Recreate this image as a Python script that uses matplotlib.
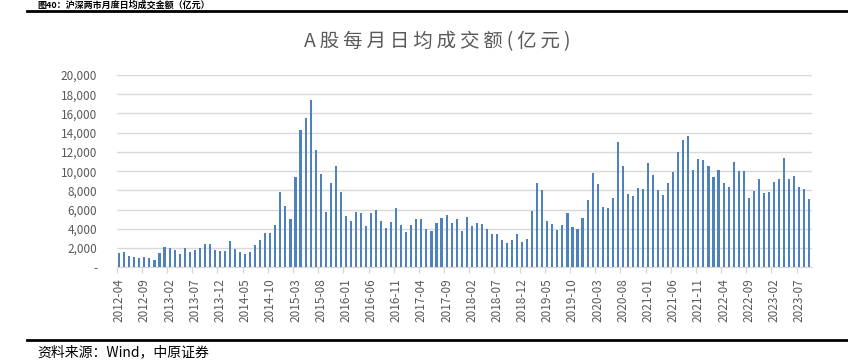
import pandas as pd
import matplotlib.pyplot as plt
from matplotlib.ticker import FixedLocator, FuncFormatter
from matplotlib.lines import Line2D

plt.rcParams['font.family'] = ['Noto Sans CJK SC', 'DejaVu Sans']

title = "A股每月日均成交额(亿元)"
header = "图40：沪深两市月度日均成交金额（亿元）"
source = "资料来源：Wind，中原证券"

start_month = "2012-04"
# daily average turnover per month, 100 million yuan, 2012-04 .. 2023-09
turnover = [
    1525, 1560, 1180, 1075, 1005, 1110, 970, 760, 1455,
    2115, 1975, 1800, 1385, 2010, 1630, 1770, 2010, 2425, 2390, 1840, 1735,
    1700, 2700, 1940, 1595, 1350, 1560, 2290, 2810, 3535, 3535, 4365, 7800,
    6345, 4990, 9390, 14245, 15495, 17365, 12165, 9705, 5720, 8805, 10570, 7870,
    5370, 4820, 5755, 5650, 4300, 5650, 5960, 4785, 4090, 4750, 6135, 4365,
    3675, 4435, 4990, 5025, 3985, 3780, 4610, 5095, 5405, 4610, 5025, 3745,
    5200, 4265, 4645, 4505, 4020, 3430, 3430, 2810, 2530, 2810, 3500, 2600,
    2910, 5860, 8805, 8005, 4850, 4540, 3915, 4400, 5615, 4195, 3985, 5095,
    6965, 9810, 8630, 6240, 6170, 7210, 13065, 10535, 7625, 7415, 8285, 8110,
    10885, 9565, 8040, 7485, 8770, 9915, 12025, 13275, 13620, 10085, 11265, 11160,
    10500, 9360, 10085, 8735, 8320, 10990, 10015, 10015, 7210, 7900, 9185, 7765,
    7800, 8910, 9220, 11335, 9220, 9530, 8390, 8180, 7140,
]
months = pd.period_range(start_month, periods=len(turnover), freq="M").strftime("%Y-%m").tolist()
label_step = 5

grey = "#595959"
grid_grey = "#d9d9d9"
bar_blue = "#4f81bd"

fig = plt.figure(figsize=(8.48, 3.62), dpi=100)
ax = fig.add_axes([116.7 / 848, 1 - 267.3 / 362, 695 / 848, (267.3 - 75) / 362])

x = list(range(len(turnover)))
ax.bar(x, turnover, width=0.42, color=bar_blue, zorder=3)

ax.set_xlim(-0.5, len(turnover) - 0.5)
ax.set_ylim(0, 20000)
ax.set_yticks(range(0, 20001, 2000))
ax.yaxis.set_major_formatter(FuncFormatter(lambda v, p: "-" if v == 0 else f"{int(v):,}"))
ax.grid(axis="y", color=grid_grey, linewidth=1, zorder=0)

label_pos = x[::label_step]
ax.xaxis.set_major_locator(FixedLocator(label_pos))
ax.set_xticklabels(months[::label_step], rotation=90)
ax.xaxis.set_minor_locator(FixedLocator([p - 0.5 for p in label_pos]))
ax.tick_params(axis="x", which="major", length=0, pad=8, labelsize=8.5, labelcolor=grey)
ax.tick_params(axis="x", which="minor", length=4, color=grid_grey, width=1)
ax.tick_params(axis="y", length=0, pad=14, labelsize=8.5, labelcolor=grey)
for lbl in ax.get_yticklabels():
    lbl.set_horizontalalignment("right")

for side in ["top", "right", "left"]:
    ax.spines[side].set_visible(False)
ax.spines["bottom"].set_color(grid_grey)

# the original title is letter-spaced
spaced_title = "\u2009".join(title)
fig.text(437 / 848, 1 - 42 / 362, spaced_title, ha="center", va="center", fontsize=14, color=grey)
fig.text(37 / 848, 1 - 0.5 / 362, header, ha="left", va="top", fontsize=6.5, fontweight="bold", color="black")
fig.add_artist(Line2D([27 / 848, 1], [1 - 10.5 / 362] * 2, color="black", linewidth=2))
fig.add_artist(Line2D([27 / 848, 1], [1 - 340 / 362] * 2, color="black", linewidth=2))
fig.text(37 / 848, 1 - 352 / 362, source, ha="left", va="center", fontsize=10, color="black")

fig.savefig("out.png", dpi=100)
